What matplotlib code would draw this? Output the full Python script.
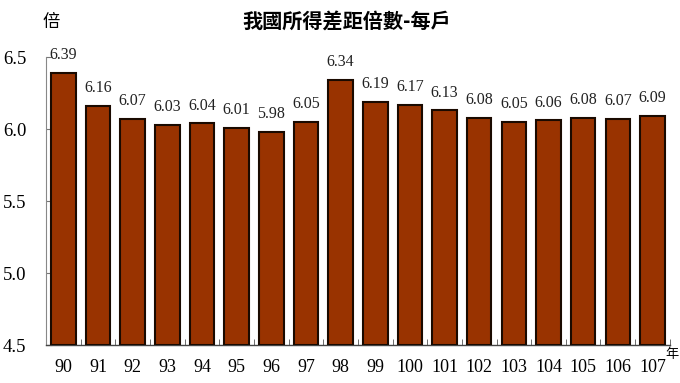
import matplotlib
matplotlib.use("Agg")
import matplotlib.pyplot as plt
import numpy as np

years = ["90", "91", "92", "93", "94", "95", "96", "97", "98", "99",
         "100", "101", "102", "103", "104", "105", "106", "107"]
ratios = [6.39, 6.16, 6.07, 6.03, 6.04, 6.01, 5.98, 6.05, 6.34, 6.19,
          6.17, 6.13, 6.08, 6.05, 6.06, 6.08, 6.07, 6.09]
y_ticks = [4.5, 5.0, 5.5, 6.0, 6.5]

serif = ["Liberation Serif", "DejaVu Serif"]
cjk = ["Noto Sans CJK TC", "DejaVu Sans"]

fig = plt.figure(figsize=(6.8, 3.83), dpi=100)
ax = fig.add_axes([0.0676, 0.0992, 0.9174, 0.7518])

x = np.arange(len(years))
ax.bar(x, [r - 4.5 for r in ratios], bottom=4.5, width=0.71,
       color="#993300", edgecolor="#1a0a00", linewidth=1.5, zorder=3)

for xi, r in zip(x, ratios):
    ax.annotate(f"{r:.2f}", (xi, r), xytext=(0, 7), textcoords="offset points",
                ha="center", va="bottom", fontsize=11.5, family=serif,
                color="#222222", annotation_clip=False)

ax.set_xlim(-0.5, len(years) - 0.5)
ax.set_ylim(4.5, 6.5)
ax.set_yticks(y_ticks)
ax.set_yticklabels([f"{t:.1f}" for t in y_ticks], family=serif, fontsize=13.5)
ax.set_xticks(x)
ax.set_xticklabels(years, family=serif, fontsize=13)
ax.set_xticks(np.arange(len(years) + 1) - 0.5, minor=True)

ax.tick_params(axis="x", which="major", length=0, pad=10)
ax.tick_params(axis="x", which="minor", direction="in", length=4, color="#555555")
ax.tick_params(axis="y", direction="in", length=4, color="#777777", pad=14)

for s in ["top", "right"]:
    ax.spines[s].set_visible(False)
ax.spines["left"].set_color("#888888")
ax.spines["bottom"].set_color("#444444")
ax.spines["bottom"].set_linewidth(1.0)

fig.text(0.51, 0.945, "我國所得差距倍數-每戶", ha="center", va="center",
         fontsize=14.5, fontweight="bold", family=cjk)
fig.text(0.0757, 0.943, "倍", ha="center", va="center", fontsize=12.5, family=cjk)
fig.text(0.988, 0.075, "年", ha="center", va="center", fontsize=9.5, family=cjk)

fig.savefig("out.png", dpi=100)
